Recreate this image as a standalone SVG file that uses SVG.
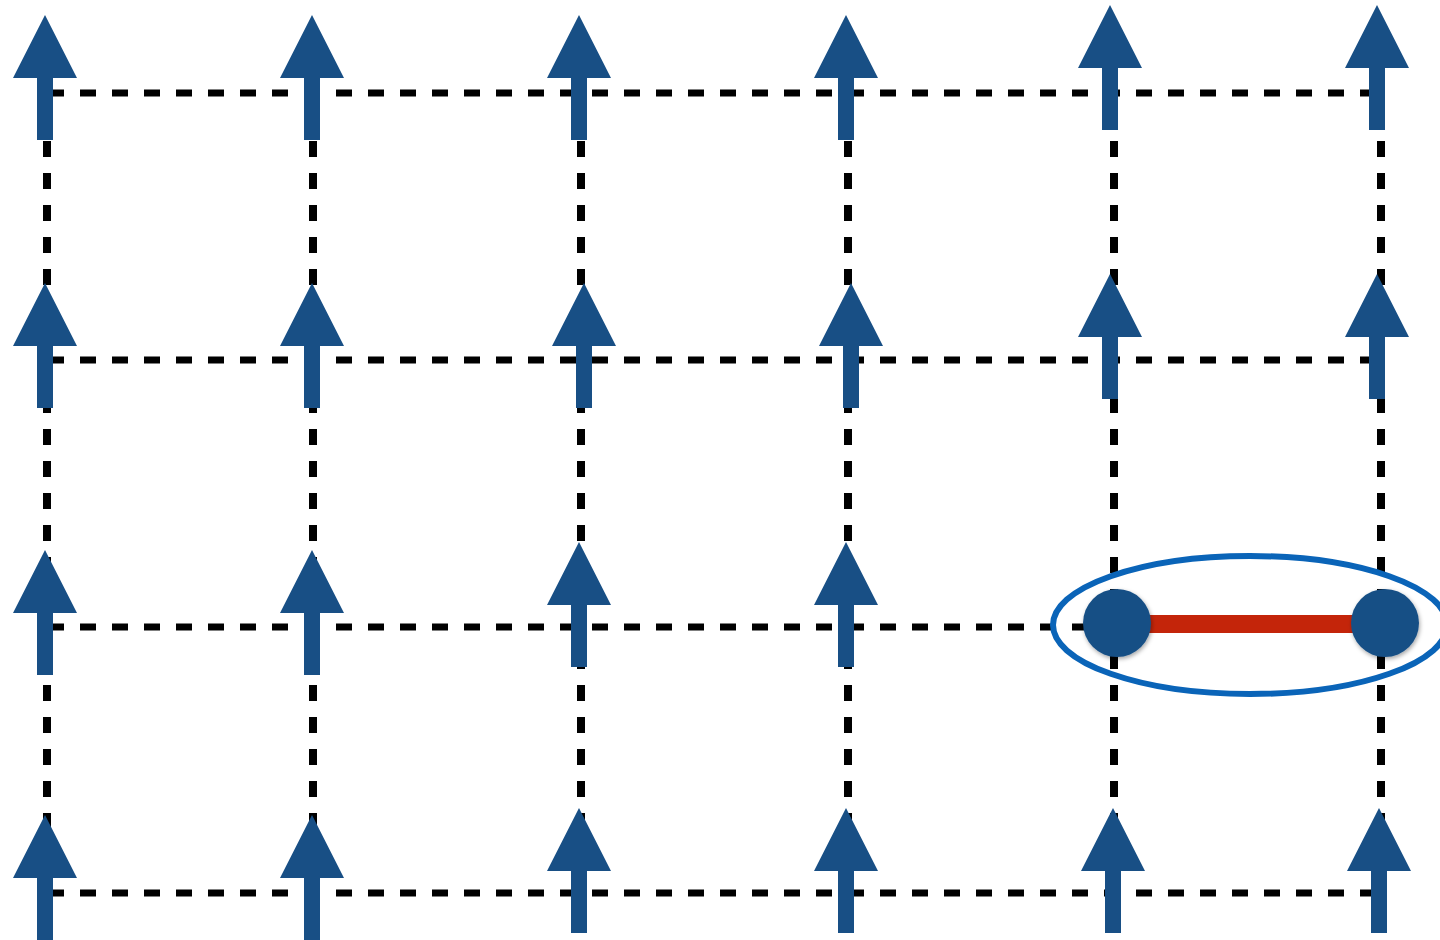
<svg xmlns="http://www.w3.org/2000/svg" width="1440" height="940" viewBox="0 0 1440 940">
  <style>
    .grid { stroke: #000; fill: none; }
    .h { stroke-width: 7; stroke-dasharray: 16 16; }
    .v { stroke-width: 8; stroke-dasharray: 16 16; stroke-dashoffset: 16; }
    .spin { fill: #184f85; }
    .site { fill: #184f85; filter: url(#shadow); }
  </style>
  <defs>
    <!-- up-pointing spin arrow, tip at the origin -->
    <polygon id="arrow" points="0,0 32,63 8,63 8,125 -8,125 -8,63 -32,63"/>
    <filter id="shadow" x="-30%" y="-30%" width="160%" height="160%">
      <feDropShadow dx="1" dy="2" stdDeviation="2" flood-color="#000" flood-opacity="0.35"/>
    </filter>
  </defs>
  <rect width="1440" height="940" fill="#fff"/>

  <!-- dashed lattice bonds -->
  <g id="lattice" class="grid">
    <line class="h" x1="48" y1="93" x2="1381" y2="93"/>
    <line class="h" x1="48" y1="360" x2="1381" y2="360"/>
    <line class="h" x1="48" y1="627" x2="1381" y2="627"/>
    <line class="h" x1="48" y1="893" x2="1381" y2="893"/>
    <line class="v" x1="47" y1="93" x2="47" y2="893"/>
    <line class="v" x1="313" y1="93" x2="313" y2="893"/>
    <line class="v" x1="581" y1="93" x2="581" y2="893"/>
    <line class="v" x1="848" y1="93" x2="848" y2="893"/>
    <line class="v" x1="1114" y1="93" x2="1114" y2="893"/>
    <line class="v" x1="1381" y1="93" x2="1381" y2="893"/>
  </g>

  <!-- spins on the lattice sites -->
  <g id="spins" class="spin">
    <use href="#arrow" x="45" y="15"/>
    <use href="#arrow" x="312" y="15"/>
    <use href="#arrow" x="579" y="15"/>
    <use href="#arrow" x="846" y="15"/>
    <use href="#arrow" x="1110" y="5"/>
    <use href="#arrow" x="1377" y="5"/>

    <use href="#arrow" x="45" y="283"/>
    <use href="#arrow" x="312" y="283"/>
    <use href="#arrow" x="584" y="283"/>
    <use href="#arrow" x="851" y="283"/>
    <use href="#arrow" x="1110" y="274"/>
    <use href="#arrow" x="1377" y="274"/>

    <use href="#arrow" x="45" y="550"/>
    <use href="#arrow" x="312" y="550"/>
    <use href="#arrow" x="579" y="542"/>
    <use href="#arrow" x="846" y="542"/>

    <use href="#arrow" x="45" y="815"/>
    <use href="#arrow" x="312" y="815"/>
    <use href="#arrow" x="579" y="808"/>
    <use href="#arrow" x="846" y="808"/>
    <use href="#arrow" x="1113" y="808"/>
    <use href="#arrow" x="1379" y="808"/>
  </g>

  <!-- singlet pair: bond, two sites and enclosing ring -->
  <g id="pair">
    <ellipse cx="1250" cy="625" rx="197" ry="69" fill="none" stroke="#0a64b8" stroke-width="6"/>
    <rect x="1117" y="615" width="268" height="18" fill="#c4250a"/>
    <circle class="site" cx="1117" cy="623" r="34"/>
    <circle class="site" cx="1385" cy="623" r="34"/>
  </g>
</svg>
